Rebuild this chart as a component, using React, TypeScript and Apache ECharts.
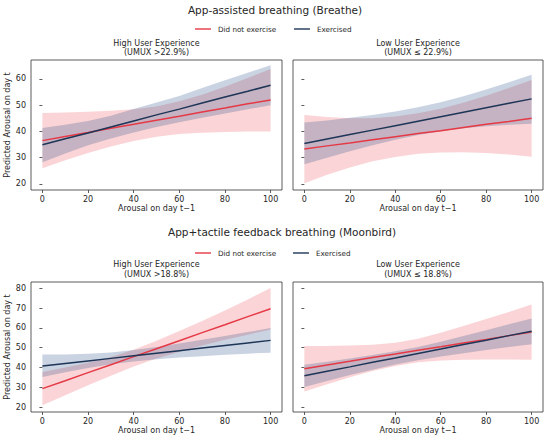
import React, { useEffect, useRef } from "react";
import * as echarts from "echarts";

const X = [0, 10, 20, 30, 40, 50, 60, 70, 80, 90, 100];
const X_TICKS = [0, 20, 40, 60, 80, 100];
const Y_TICKS_TOP = [20, 30, 40, 50, 60];
const Y_TICKS_BOTTOM = [20, 30, 40, 50, 60, 70, 80];

const TITLE_TOP = "App-assisted breathing (Breathe)";
const TITLE_BOTTOM = "App+tactile feedback breathing (Moonbird)";
const SUB_HIGH_TOP = ["High User Experience", "(UMUX >22.9%)"];
const SUB_LOW_TOP = ["Low User Experience", "(UMUX \u2264 22.9%)"];
const SUB_HIGH_BOTTOM = ["High User Experience", "(UMUX >18.8%)"];
const SUB_LOW_BOTTOM = ["Low User Experience", "(UMUX \u2264 18.8%)"];
const LEGEND_NAMES = ["Did not exercise", "Exercised"];
const X_NAME = "Arousal on day t\u22121";
const Y_NAME = "Predicted Arousal on day t";

// Breathe, high UX
const bhRedFit = [36.5, 38.1, 39.6, 41.2, 42.7, 44.3, 45.8, 47.4, 48.9, 50.5, 52.0];
const bhRedLo = [26.0, 29.0, 31.8, 34.3, 36.4, 38.0, 39.0, 39.5, 39.8, 40.0, 40.0];
const bhRedHi = [47.0, 47.2, 47.5, 47.9, 48.4, 49.5, 51.5, 54.0, 57.0, 60.3, 63.8];
const bhBlueFit = [34.9, 37.2, 39.4, 41.7, 44.0, 46.3, 48.5, 50.8, 53.1, 55.3, 57.6];
const bhBlueLo = [28.3, 31.6, 34.7, 37.3, 39.6, 41.7, 43.5, 45.2, 46.8, 48.4, 50.0];
const bhBlueHi = [41.3, 42.5, 44.0, 46.0, 48.5, 51.0, 53.5, 56.5, 59.5, 62.3, 65.2];

// Breathe, low UX
const blRedFit = [33.3, 34.5, 35.6, 36.8, 38.0, 39.2, 40.3, 41.5, 42.7, 43.8, 45.0];
const blRedLo = [20.3, 23.5, 26.3, 28.6, 30.3, 31.5, 32.0, 32.1, 31.8, 31.2, 30.4];
const blRedHi = [46.3, 45.5, 45.0, 45.0, 45.7, 46.9, 48.6, 50.9, 53.6, 56.5, 59.6];
const blBlueFit = [35.4, 37.1, 38.8, 40.5, 42.2, 43.9, 45.6, 47.3, 49.0, 50.7, 52.4];
const blBlueLo = [27.5, 30.0, 32.5, 34.7, 36.8, 38.6, 40.1, 41.2, 42.0, 42.5, 42.9];
const blBlueHi = [43.4, 44.2, 45.2, 46.3, 47.6, 49.2, 51.1, 53.4, 56.0, 58.7, 61.6];

// Moonbird, high UX
const mhRedFit = [29.3, 33.3, 37.4, 41.4, 45.5, 49.5, 53.5, 57.6, 61.6, 65.7, 69.7];
const mhRedLo = [20.9, 26.0, 31.0, 35.8, 40.5, 44.5, 48.0, 51.1, 54.0, 56.6, 59.2];
const mhRedHi = [37.7, 40.0, 42.4, 45.3, 49.0, 53.5, 58.4, 63.5, 68.8, 74.4, 80.2];
const mhBlueFit = [40.7, 42.0, 43.3, 44.6, 45.9, 47.2, 48.5, 49.8, 51.1, 52.4, 53.7];
const mhBlueLo = [35.2, 37.6, 39.8, 41.6, 43.0, 44.1, 45.0, 45.7, 46.4, 47.0, 47.5];
const mhBlueHi = [46.5, 46.6, 46.9, 47.6, 48.8, 50.3, 52.1, 54.0, 55.9, 57.9, 59.9];

// Moonbird, low UX
const mlRedFit = [39.4, 41.3, 43.1, 45.0, 46.8, 48.7, 50.5, 52.4, 54.2, 56.1, 57.9];
const mlRedLo = [27.9, 31.5, 35.0, 38.2, 40.8, 42.6, 43.5, 43.9, 44.0, 44.0, 43.9];
const mlRedHi = [50.8, 50.9, 51.1, 51.5, 52.5, 54.5, 57.5, 61.0, 64.5, 68.0, 71.8];
const mlBlueFit = [35.8, 38.1, 40.3, 42.6, 44.8, 47.1, 49.3, 51.6, 53.8, 56.1, 58.3];
const mlBlueLo = [30.1, 33.2, 36.2, 38.9, 41.5, 43.7, 45.5, 47.2, 48.8, 50.3, 51.7];
const mlBlueHi = [41.4, 42.9, 44.5, 46.3, 48.2, 50.4, 53.0, 55.9, 58.8, 61.8, 64.8];

const RED = "#E63946";
const BLUE = "#1D3557";
const RED_BAND = "rgba(230,57,70,0.22)";
const BLUE_BAND = "rgba(30,70,130,0.24)";
const FONT = "DejaVu Sans";
const TXT = "#262626";

type Panel = {
  redFit: number[]; redLo: number[]; redHi: number[];
  blueFit: number[]; blueLo: number[]; blueHi: number[];
};

const PANELS: Panel[] = [
  { redFit: bhRedFit, redLo: bhRedLo, redHi: bhRedHi, blueFit: bhBlueFit, blueLo: bhBlueLo, blueHi: bhBlueHi },
  { redFit: blRedFit, redLo: blRedLo, redHi: blRedHi, blueFit: blBlueFit, blueLo: blBlueLo, blueHi: blBlueHi },
  { redFit: mhRedFit, redLo: mhRedLo, redHi: mhRedHi, blueFit: mhBlueFit, blueLo: mhBlueLo, blueHi: mhBlueHi },
  { redFit: mlRedFit, redLo: mlRedLo, redHi: mlRedHi, blueFit: mlBlueFit, blueLo: mlBlueLo, blueHi: mlBlueHi },
];

const GRIDS = [
  { left: 31, top: 60, width: 251, height: 130 },
  { left: 293, top: 60, width: 250, height: 130 },
  { left: 31, top: 282, width: 251, height: 130 },
  { left: 293, top: 282, width: 250, height: 130 },
];

function bandSeries(idx: number, lo: number[], hi: number[], fill: string) {
  return {
    type: "custom",
    xAxisIndex: idx,
    yAxisIndex: idx,
    clip: true,
    silent: true,
    data: X.map((x, i) => [x, lo[i], hi[i]]),
    encode: { x: 0, y: [1, 2] },
    renderItem: (params: any, api: any) => {
      if (params.dataIndex !== 0) return null;
      const pts: number[][] = [];
      for (let i = 0; i < X.length; i++) pts.push(api.coord([X[i], hi[i]]));
      for (let i = X.length - 1; i >= 0; i--) pts.push(api.coord([X[i], lo[i]]));
      return { type: "polygon", shape: { points: pts }, style: { fill, stroke: null } };
    },
  };
}

function lineSeries(idx: number, fit: number[], color: string) {
  return {
    type: "line",
    xAxisIndex: idx,
    yAxisIndex: idx,
    data: X.map((x, i) => [x, fit[i]]),
    showSymbol: false,
    silent: true,
    lineStyle: { color, width: 1.5 },
  };
}

function textEl(x: number, y: number, text: string, size: number, align = "center") {
  return {
    type: "text",
    x,
    y,
    style: { text, font: `${size}px "${FONT}"`, fill: TXT, align, verticalAlign: "middle" },
  };
}

function legendEls(y: number, redX: number, blueX: number) {
  return [
    { type: "line", shape: { x1: redX, y1: y, x2: redX + 16, y2: y }, style: { stroke: RED, lineWidth: 1.4 } },
    textEl(redX + 23, y, LEGEND_NAMES[0], 7.2, "left"),
    { type: "line", shape: { x1: blueX, y1: y, x2: blueX + 16, y2: y }, style: { stroke: BLUE, lineWidth: 1.4 } },
    textEl(blueX + 23, y, LEGEND_NAMES[1], 7.2, "left"),
  ];
}

export default function App() {
  const ref = useRef<HTMLDivElement>(null);
  useEffect(() => {
    if (!ref.current) return;
    const chart = echarts.init(ref.current, null, { renderer: "svg" });
    const xAxes = GRIDS.map((_, i) => ({
      type: "value",
      gridIndex: i,
      min: -5,
      max: 105,
      splitLine: { show: false },
      axisLine: { show: false },
      axisTick: { show: true, length: 3, lineStyle: { color: "#333", width: 0.8 }, customValues: X_TICKS },
      axisLabel: { fontSize: 8, color: TXT, fontFamily: FONT, margin: 5, customValues: X_TICKS },
      name: X_NAME,
      nameLocation: "middle",
      nameGap: 14,
      nameTextStyle: { fontSize: 8, color: TXT, fontFamily: FONT },
    }));
    const yAxes = GRIDS.map((_, i) => {
      const top = i < 2;
      const ticks = top ? Y_TICKS_TOP : Y_TICKS_BOTTOM;
      const left = i % 2 === 0;
      return {
        type: "value",
        gridIndex: i,
        min: top ? 17.7 : 17.5,
        max: top ? 67.2 : 83.2,
        splitLine: { show: false },
        axisLine: { show: false },
        axisTick: { show: true, length: 3, lineStyle: { color: "#333", width: 0.8 }, customValues: ticks },
        axisLabel: { show: left, fontSize: 8, color: TXT, fontFamily: FONT, margin: 5, customValues: ticks },
        name: left ? Y_NAME : "",
        nameLocation: "middle",
        nameGap: 19,
        nameRotate: 90,
        nameTextStyle: { fontSize: 8, color: TXT, fontFamily: FONT },
      };
    });
    const series: any[] = [];
    PANELS.forEach((p, i) => {
      series.push(bandSeries(i, p.redLo, p.redHi, RED_BAND));
      series.push(bandSeries(i, p.blueLo, p.blueHi, BLUE_BAND));
      series.push(lineSeries(i, p.redFit, RED));
      series.push(lineSeries(i, p.blueFit, BLUE));
    });
    const subs = [SUB_HIGH_TOP, SUB_LOW_TOP, SUB_HIGH_BOTTOM, SUB_LOW_BOTTOM];
    const graphic: any[] = [
      textEl(275, 10, TITLE_TOP, 10.5),
      textEl(282, 232, TITLE_BOTTOM, 10.5),
      ...legendEls(29, 195, 294),
      ...legendEls(253, 195, 293),
    ];
    subs.forEach((s, i) => {
      const g = GRIDS[i];
      const cx = g.left + g.width / 2;
      const y0 = i < 2 ? 43 : 264.5;
      graphic.push(textEl(cx, y0, s[0], 8));
      graphic.push(textEl(cx, y0 + 9.8, s[1], 8));
    });
    chart.setOption({
      animation: false,
      backgroundColor: "#ffffff",
      grid: GRIDS.map((g) => ({ ...g, show: true, borderColor: "#333", borderWidth: 0.8, backgroundColor: "transparent" })),
      xAxis: xAxes,
      yAxis: yAxes,
      series,
      graphic,
    });
    return () => chart.dispose();
  }, []);
  return <div ref={ref} style={{ position: "absolute", left: 0, top: 0, width: 550, height: 441 }} />;
}
